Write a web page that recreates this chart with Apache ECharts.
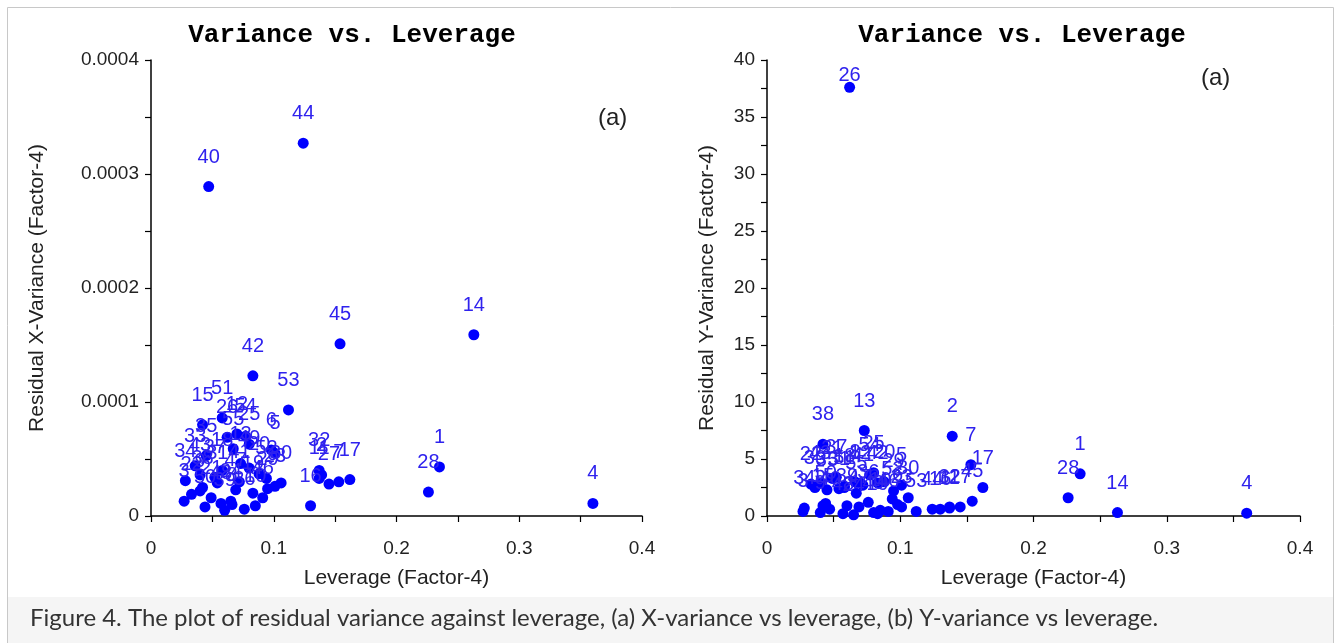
<!DOCTYPE html>
<html>
<head>
<meta charset="utf-8">
<script src="https://cdn.jsdelivr.net/npm/echarts@6/dist/echarts.min.js"></script>
<style>
  html, body { margin: 0; padding: 0; background: #fff; }
  #chart { width: 1341px; height: 643px; }
</style>
</head>
<body>
<div id="chart"></div>
<script>
// sample numbers 1..55
const sampleIds = [];
for (let i = 1; i <= 55; i++) sampleIds.push(i);

// leverage (Factor-4), shared by both panels
const leverage = [
  0.235, 0.139, 0.027, 0.360, 0.101, 0.098, 0.153, 0.066, 0.040, 0.085,
  0.137, 0.070, 0.073, 0.263, 0.042, 0.130, 0.162, 0.058, 0.083, 0.088,
  0.049, 0.033, 0.101, 0.065, 0.080, 0.062, 0.145, 0.226, 0.095, 0.106,
  0.054, 0.137, 0.036, 0.028, 0.045, 0.076, 0.052, 0.042, 0.060, 0.047,
  0.072, 0.083, 0.040, 0.124, 0.154, 0.091, 0.069, 0.057, 0.080, 0.044,
  0.058, 0.094, 0.112, 0.077, 0.067
];

// residual X-variance
const xVariance = [
  4.3e-5, 3.6e-5, 1.3e-5, 1.1e-5, 5.5e-5, 5.8e-5, 3.0e-5, 1.0e-5, 2.2e-5, 0.9e-5,
  3.3e-5, 7.2e-5, 4.6e-5, 15.9e-5, 8.0e-5, 0.9e-5, 3.2e-5, 4.0e-5, 2.0e-5, 3.7e-5,
  1.6e-5, 1.9e-5, 2.6e-5, 1.3e-5, 6.3e-5, 6.9e-5, 2.8e-5, 2.1e-5, 2.4e-5, 2.9e-5,
  2.9e-5, 4.0e-5, 4.4e-5, 3.1e-5, 5.3e-5, 0.6e-5, 3.4e-5, 2.5e-5, 0.5e-5, 28.9e-5,
  3.0e-5, 12.3e-5, 3.6e-5, 32.7e-5, 15.1e-5, 1.6e-5, 2.3e-5, 1.1e-5, 4.2e-5, 0.8e-5,
  8.6e-5, 3.3e-5, 9.3e-5, 7.0e-5, 5.9e-5
];

// residual Y-variance
const yVariance = [
  3.7, 7.0, 0.4, 0.25, 2.7, 1.0, 4.5, 3.0, 0.3, 0.5,
  0.7, 2.9, 7.5, 0.3, 0.9, 0.6, 2.5, 2.6, 0.2, 3.0,
  3.3, 2.8, 0.8, 0.1, 3.8, 37.6, 0.8, 1.6, 2.2, 1.6,
  2.4, 0.8, 2.5, 0.7, 2.3, 1.2, 3.4, 6.3, 0.9, 0.6,
  2.7, 2.9, 2.9, 0.6, 1.3, 0.4, 0.8, 0.2, 0.3, 1.1,
  2.5, 1.5, 0.4, 3.6, 2.0
];

const xTicks = [0, 0.1, 0.2, 0.3, 0.4];
const panelTitle = 'Variance vs. Leverage';
const caption = 'Figure 4. The plot of residual variance against leverage, (a) X-variance vs leverage, (b) Y-variance vs leverage.';

const chart = echarts.init(document.getElementById('chart'));

const axisFont = 'Liberation Sans, Arial, sans-serif';
const gridTop = 60;

function makeData(ys) {
  return sampleIds.map((id, i) => [leverage[i], ys[i], id]);
}

function xAxisOpt(gridIndex) {
  return {
    gridIndex: gridIndex,
    type: 'value',
    min: xTicks[0],
    max: xTicks[xTicks.length - 1],
    interval: 0.1,
    name: 'Leverage (Factor-4)',
    nameLocation: 'middle',
    nameGap: 52,
    nameTextStyle: { fontSize: 21, color: '#222', fontFamily: axisFont },
    axisLine: { onZero: false, lineStyle: { color: '#000', width: 1.5 } },
    axisTick: { length: 6, lineStyle: { color: '#000', width: 1.2 } },
    minorTick: { show: true, splitNumber: 2, length: 6, lineStyle: { color: '#000', width: 1.2 } },
    axisLabel: { fontSize: 19, color: '#222', fontFamily: axisFont, margin: 23 },
    splitLine: { show: false }
  };
}

function yAxisOpt(gridIndex, max, interval, name, nameGap, fmt) {
  return {
    gridIndex: gridIndex,
    type: 'value',
    min: 0,
    max: max,
    interval: interval,
    name: name,
    nameLocation: 'middle',
    nameGap: nameGap,
    nameTextStyle: { fontSize: 21, color: '#222', fontFamily: axisFont },
    axisLine: { show: true, lineStyle: { color: '#000', width: 1.5 } },
    axisTick: { length: 6, lineStyle: { color: '#000', width: 1.2 } },
    minorTick: { show: true, splitNumber: 2, length: 6, lineStyle: { color: '#000', width: 1.2 } },
    axisLabel: { fontSize: 19, color: '#222', fontFamily: axisFont, margin: 12, formatter: fmt },
    splitLine: { show: false }
  };
}

function scatterSeries(idx, ys) {
  return {
    type: 'scatter',
    xAxisIndex: idx,
    yAxisIndex: idx,
    data: makeData(ys),
    symbolSize: 11,
    itemStyle: { color: '#0000ff', opacity: 1 },
    label: {
      show: true,
      position: 'top',
      distance: 14,
      formatter: p => p.value[2],
      fontSize: 20,
      fontFamily: axisFont,
      color: '#2f22ee',
      opacity: 1
    },
    // keep labels inside the plot frame
    labelLayout: function (params) {
      const r = params.labelRect;
      if (r.y < gridTop + 4) {
        return { dy: gridTop + 5 - r.y, hideOverlap: false };
      }
      return { hideOverlap: false };
    },
    emphasis: { disabled: true }
  };
}

const option = {
  backgroundColor: '#fff',
  animation: false,
  title: [
    {
      text: panelTitle, left: 347, top: 17, textAlign: 'center',
      textStyle: { fontFamily: 'Liberation Mono, monospace', fontWeight: 'bold', fontSize: 26, color: '#000' }
    },
    {
      text: panelTitle, left: 1017, top: 17, textAlign: 'center',
      textStyle: { fontFamily: 'Liberation Mono, monospace', fontWeight: 'bold', fontSize: 26, color: '#000' }
    }
  ],
  grid: [
    { left: 151, top: gridTop, width: 491, height: 456 },
    { left: 767, top: gridTop, width: 533, height: 456 }
  ],
  xAxis: [xAxisOpt(0), xAxisOpt(1)],
  yAxis: [
    yAxisOpt(0, 0.0004, 0.0001, 'Residual X-Variance (Factor-4)', 103,
      v => (v === 0 ? '0' : v.toFixed(4))),
    yAxisOpt(1, 40, 5, 'Residual Y-Variance (Factor-4)', 49, v => String(v))
  ],
  series: [scatterSeries(0, xVariance), scatterSeries(1, yVariance)],
  graphic: [
    {
      type: 'rect', z: -10, silent: true,
      shape: { x: 8, y: 597, width: 1325, height: 50 },
      style: { fill: '#f5f5f5' }
    },
    {
      type: 'rect', z: 100, silent: true,
      shape: { x: 7.5, y: 7.5, width: 1326, height: 645 },
      style: { fill: 'none', stroke: '#c8c8c8', lineWidth: 1 }
    },
    {
      type: 'text', left: 598, top: 106, silent: true,
      style: { text: '(a)', fontSize: 24, fontFamily: axisFont, fill: '#222' }
    },
    {
      type: 'text', left: 1201, top: 66, silent: true,
      style: { text: '(a)', fontSize: 24, fontFamily: axisFont, fill: '#222' }
    },
    {
      type: 'text', left: 30, top: 606, silent: true,
      style: { text: caption, fontSize: 24, fontFamily: 'Lato, sans-serif', fill: '#333' }
    }
  ]
};

chart.setOption(option);
</script>
</body>
</html>
